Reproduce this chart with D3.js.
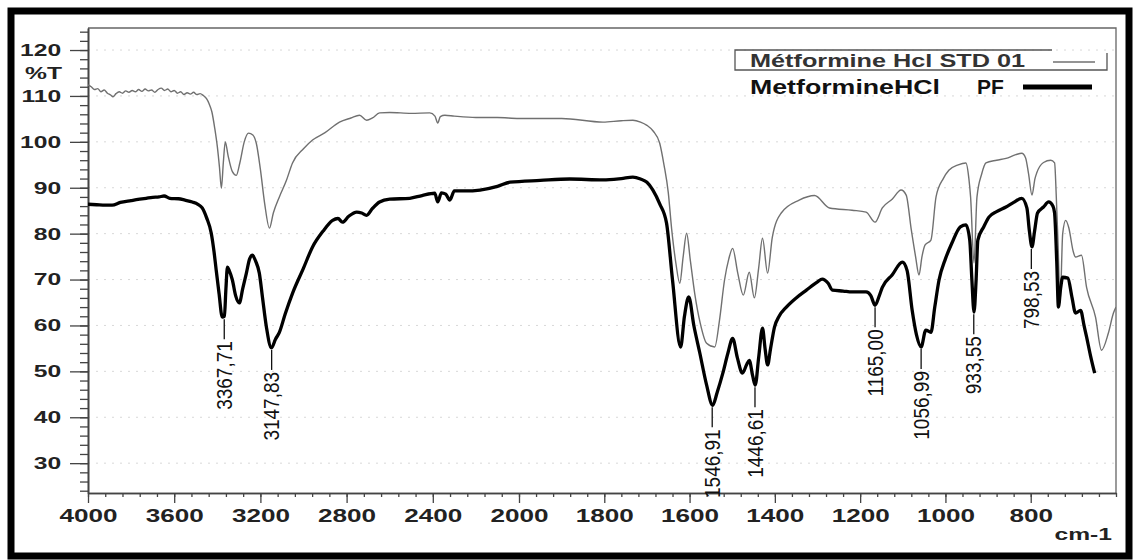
<!DOCTYPE html>
<html>
<head>
<meta charset="utf-8">
<script src="https://cdnjs.cloudflare.com/ajax/libs/d3/7.8.5/d3.min.js"></script>
<style>
  body { margin: 0; background: #fff; }
  svg { display: block; font-family: "Liberation Sans", Arial, sans-serif; }
</style>
</head>
<body>
<div id="chart"></div>
<script>
// FTIR spectra, wavenumber (cm-1) vs %T

// Métformine Hcl STD 01 (thin grey trace)
var stdWn = [4000, 3985, 3970, 3955, 3940, 3925, 3910, 3895, 3884, 3870, 3855, 3840, 3825, 3810, 3795, 3780,
  3765, 3750, 3735, 3720, 3705, 3690, 3675, 3660, 3645, 3630, 3615, 3600, 3585, 3570, 3555, 3540, 3525, 3510,
  3495, 3480, 3465, 3450, 3438, 3425, 3412, 3400, 3390, 3381, 3372, 3363, 3350, 3330, 3312, 3295, 3275, 3255,
  3235, 3219, 3200, 3180, 3158, 3140, 3112, 3080, 3051, 3000, 2958, 2900, 2833, 2780, 2740, 2707, 2680, 2647,
  2600, 2500, 2414, 2390, 2377, 2365, 2344, 2300, 2200, 2100, 2000, 1900, 1803, 1760, 1733, 1715, 1700, 1685,
  1670, 1660, 1650, 1642, 1632, 1623, 1615, 1607, 1598, 1588, 1575, 1560, 1541, 1530, 1518, 1508, 1499, 1487,
  1474, 1460, 1448, 1438, 1429, 1417, 1406, 1385, 1343, 1307, 1272, 1219, 1186, 1165, 1148, 1125, 1104, 1092,
  1080, 1070, 1062, 1055, 1048, 1034, 1022, 1005, 992, 970, 952, 945, 941, 933, 926, 915, 905, 880, 858, 835,
  821, 812, 805, 797, 790, 786, 770, 753, 744, 740, 736, 731, 725, 718, 711, 700, 695, 681, 669, 648, 634, 618,
  606, 600];
var stdT = [112.4, 112.0, 111.4, 111.6, 110.9, 111.3, 110.6, 110.2, 109.8, 110.5, 110.9, 110.6, 111.1, 110.8,
  111.2, 110.9, 111.4, 111.0, 111.5, 111.1, 111.3, 110.8, 111.4, 111.7, 111.2, 111.5, 110.9, 111.2, 110.6,
  110.9, 110.3, 110.7, 110.4, 110.8, 110.3, 110.5, 110.1, 109.4, 108.3, 106.5, 103.0, 99.0, 94.5, 89.9, 95.5,
  100.0, 97.0, 93.5, 92.7, 95.5, 100.0, 101.9, 101.5, 99.7, 94.0, 86.5, 81.2, 84.5, 88.0, 91.5, 95.4, 98.5,
  100.4, 102.0, 104.3, 105.2, 105.8, 104.7, 105.2, 106.3, 106.4, 106.2, 106.3, 105.6, 104.1, 105.5, 105.8,
  105.6, 105.3, 105.3, 105.1, 105.1, 104.3, 104.6, 104.7, 104.3, 103.6, 102.3, 99.7, 95.0, 89.0, 81.0, 73.5,
  69.2, 75.0, 80.1, 74.0, 67.0, 60.5, 56.1, 55.3, 61.0, 69.9, 74.5, 76.8, 71.4, 66.6, 71.6, 66.0, 72.5, 79.0,
  71.4, 79.2, 84.5, 87.3, 88.3, 85.6, 85.1, 84.7, 82.5, 85.6, 87.5, 89.5, 88.4, 80.8, 75.0, 71.0, 75.0, 77.5,
  78.6, 88.0, 92.0, 93.8, 95.0, 95.4, 92.0, 88.0, 73.6, 88.0, 93.0, 95.4, 96.0, 96.4, 97.2, 97.5, 96.5, 93.0,
  88.4, 92.0, 93.2, 95.5, 96.0, 95.4, 88.0, 78.0, 65.0, 80.0, 82.9, 81.4, 76.0, 74.9, 75.3, 68.3, 61.8, 54.6,
  58.3, 62.7, 64.0];

// MetformineHCl PF (thick black trace)
var pfWn = [4000, 3960, 3920, 3888, 3850, 3800, 3760, 3730, 3700, 3670, 3647, 3620, 3580, 3550, 3516, 3490,
  3470, 3450, 3428, 3415, 3405, 3392, 3377, 3367, 3360, 3353, 3345, 3330, 3315, 3298, 3282, 3265, 3250, 3237,
  3222, 3205, 3190, 3172, 3149, 3130, 3112, 3085, 3051, 3000, 2958, 2910, 2865, 2840, 2819, 2790, 2753, 2730,
  2707, 2680, 2647, 2600, 2507, 2450, 2391, 2377, 2360, 2340, 2321, 2300, 2250, 2181, 2100, 2042, 1950, 1881,
  1803, 1760, 1733, 1715, 1700, 1686, 1670, 1654, 1640, 1621, 1612, 1602, 1590, 1576, 1560, 1546, 1535, 1522,
  1510, 1499, 1488, 1476, 1466, 1460, 1452, 1446, 1438, 1429, 1423, 1417, 1410, 1401, 1390, 1373, 1350, 1326,
  1300, 1289, 1275, 1265, 1240, 1219, 1186, 1175, 1165, 1155, 1148, 1125, 1101, 1090, 1078, 1068, 1057, 1046,
  1034, 1025, 1015, 1000, 985, 965, 952, 943, 938, 933, 928, 924, 910, 898, 880, 858, 840, 821, 809, 803, 797,
  791, 784, 770, 758, 748, 744, 739, 735, 730, 725, 713, 703, 695, 683, 675, 669, 660, 650];
var pfT = [86.4, 86.3, 86.2, 86.2, 86.8, 87.2, 87.5, 87.7, 87.9, 88.0, 88.2, 87.7, 87.6, 87.3, 86.9, 86.4,
  85.6, 83.5, 80.1, 76.0, 72.0, 67.0, 61.8, 62.0, 68.0, 72.7, 72.0, 69.9, 66.5, 64.9, 68.0, 71.4, 74.5, 75.3,
  74.0, 71.4, 66.0, 59.6, 55.1, 57.0, 58.5, 62.5, 67.0, 72.5, 77.1, 80.5, 82.9, 83.3, 82.5, 83.8, 84.7, 84.5,
  84.0, 85.5, 86.9, 87.5, 87.7, 88.3, 88.8, 86.9, 88.9, 88.6, 87.3, 89.3, 89.3, 89.5, 90.3, 91.2, 91.6, 91.9,
  91.7, 92.0, 92.3, 91.9, 91.2, 89.5, 86.5, 82.3, 69.9, 55.3, 62.0, 66.2, 60.0, 54.0, 47.0, 42.6, 45.5, 49.6,
  54.0, 57.2, 53.0, 49.6, 51.5, 52.4, 49.0, 47.0, 53.0, 59.4, 55.0, 51.4, 55.0, 59.6, 62.0, 64.0, 66.0, 67.7,
  69.5, 70.1, 69.2, 67.7, 67.5, 67.3, 67.3, 66.5, 64.4, 66.5, 68.3, 71.0, 73.8, 72.0, 63.3, 58.0, 55.3, 59.0,
  58.5, 64.0, 69.9, 74.5, 77.9, 81.5, 81.9, 78.6, 70.0, 62.9, 70.0, 78.6, 81.5, 83.6, 84.8, 85.8, 86.8, 87.7,
  85.6, 80.5, 77.1, 80.5, 84.5, 85.8, 86.9, 86.0, 84.5, 74.0, 64.0, 68.0, 70.5, 70.3, 66.0, 62.7, 63.3, 60.0,
  57.5, 53.5, 49.6];

// annotated bands of the PF trace
var peakWn = [3367.71, 3147.83, 1546.91, 1446.61, 1165.00, 1056.99, 933.55, 798.53];
var peakT = [61.8, 55.1, 42.6, 47.0, 64.4, 55.3, 62.9, 77.1];
var peakLabels = ["3367,71", "3147,83", "1546,91", "1446,61", "1165,00", "1056,99", "933,55", "798,53"];

var xMajor = [4000, 3600, 3200, 2800, 2400, 2000, 1800, 1600, 1400, 1200, 1000, 800];
var yMajor = [30, 40, 50, 60, 70, 80, 90, 100, 110, 120];
var seriesNames = ["Métformine Hcl STD 01", "MetformineHCl", "PF"];

var width = 1136, height = 560;
var plotL = 88, plotR = 1116, plotT = 28, plotB = 493;

var svg = d3.select("#chart").append("svg")
    .attr("width", width)
    .attr("height", height);

// spectrometer scale: 2x expansion below 2000 cm-1
var x = d3.scaleLinear()
    .domain([4000, 2000, 600])
    .range([plotL, 519, plotR]);

var y = d3.scaleLinear()
    .domain([23.5, 124.8])
    .range([plotB, plotT]);

// outer black frame
svg.append("rect")
    .attr("x", 11).attr("y", 11)
    .attr("width", 1118).attr("height", 545)
    .attr("fill", "none")
    .attr("stroke", "#000")
    .attr("stroke-width", 7);

// faint dotted grid
svg.append("g").selectAll("line")
    .data(yMajor)
  .enter().append("line")
    .attr("x1", plotL).attr("x2", plotR)
    .attr("y1", function(d) { return y(d); })
    .attr("y2", function(d) { return y(d); })
    .attr("stroke", "#d8d8d8")
    .attr("stroke-dasharray", "2,6");

// plot frame top / right
svg.append("path")
    .attr("d", "M" + plotL + "," + plotT + "H" + plotR + "V" + plotB)
    .attr("fill", "none")
    .attr("stroke", "#666")
    .attr("stroke-width", 1.3);

// axes
var xMinor = d3.axisBottom(x)
    .tickValues(d3.range(4000, 2000, -80).concat(d3.range(2000, 599, -40)))
    .tickSize(4).tickSizeOuter(0).tickFormat("");
var xAxis = d3.axisBottom(x)
    .tickValues(xMajor)
    .tickSize(10).tickSizeOuter(0).tickPadding(6)
    .tickFormat(d3.format("d"));
var yMinor = d3.axisLeft(y)
    .tickValues(d3.range(24, 125, 2))
    .tickSize(8).tickSizeOuter(0).tickFormat("");
var yAxis = d3.axisLeft(y)
    .tickValues(yMajor)
    .tickSize(18).tickSizeOuter(0);

function styleAxis(g) {
  g.select(".domain").attr("stroke", "#444").attr("stroke-width", 1.6);
  g.selectAll(".tick line").attr("stroke", "#444").attr("stroke-width", 1.3);
}

svg.append("g")
    .attr("transform", "translate(0," + plotB + ")")
    .call(xMinor).call(styleAxis);

svg.append("g")
    .attr("transform", "translate(0," + plotB + ")")
    .call(xAxis).call(styleAxis)
  .selectAll("text")
    .attr("font-family", "Liberation Sans, Arial, sans-serif")
    .attr("font-size", 18)
    .attr("font-weight", "bold")
    .attr("fill", "#222")
    .attr("transform", "scale(1.45,1)");

svg.append("g")
    .attr("transform", "translate(" + plotL + ",0)")
    .call(yMinor).call(styleAxis);

svg.append("g")
    .attr("transform", "translate(" + plotL + ",0)")
    .call(yAxis).call(styleAxis)
  .selectAll("text")
    .attr("x", -18.5)
    .attr("font-family", "Liberation Sans, Arial, sans-serif")
    .attr("font-size", 17)
    .attr("font-weight", "bold")
    .attr("fill", "#222")
    .attr("transform", "scale(1.45,1)");

// unit labels
svg.append("text")
    .attr("transform", "translate(62,79) scale(1.45,1)")
    .attr("text-anchor", "end")
    .attr("font-size", 17).attr("font-weight", "bold").attr("fill", "#222")
    .text("%T");

svg.append("text")
    .attr("transform", "translate(1112,540) scale(1.45,1)")
    .attr("text-anchor", "end")
    .attr("font-size", 17).attr("font-weight", "bold").attr("fill", "#222")
    .text("cm-1");

// spectra
svg.append("clipPath").attr("id", "plot")
  .append("rect")
    .attr("x", plotL).attr("y", plotT)
    .attr("width", plotR - plotL).attr("height", plotB - plotT);

var line = d3.line()
    .x(function(d) { return x(d[0]); })
    .y(function(d) { return y(d[1]); })
    .curve(d3.curveMonotoneX);

svg.append("path")
    .datum(d3.zip(stdWn, stdT))
    .attr("clip-path", "url(#plot)")
    .attr("d", line)
    .attr("fill", "none")
    .attr("stroke", "#707070")
    .attr("stroke-width", 1.4)
    .attr("stroke-linejoin", "round");

svg.append("path")
    .datum(d3.zip(pfWn, pfT))
    .attr("clip-path", "url(#plot)")
    .attr("d", line)
    .attr("fill", "none")
    .attr("stroke", "#000")
    .attr("stroke-width", 3.3)
    .attr("stroke-linejoin", "round");

// peak annotations
var peaks = svg.append("g").selectAll("g")
    .data(d3.range(peakWn.length))
  .enter().append("g")
    .attr("transform", function(i) { return "translate(" + x(peakWn[i]) + "," + (y(peakT[i]) + 2) + ")"; });

peaks.append("line")
    .attr("y1", 0).attr("y2", 20)
    .attr("stroke", "#111")
    .attr("stroke-width", 1.3);

peaks.append("text")
    .attr("transform", "translate(0,22) scale(1.15,1) rotate(-90)")
    .attr("text-anchor", "end")
    .attr("dy", "0.35em")
    .attr("font-size", 19)
    .attr("fill", "#111")
    .text(function(i) { return peakLabels[i]; });

// legend
var legend = svg.append("g");

legend.append("path")
    .attr("d", "M1052,50H735V70H1107V53")
    .attr("fill", "none")
    .attr("stroke", "#555")
    .attr("stroke-width", 1.3);

legend.append("text")
    .attr("x", 750).attr("y", 67)
    .attr("font-size", 18).attr("font-weight", "bold").attr("fill", "#333")
    .attr("textLength", 275).attr("lengthAdjust", "spacingAndGlyphs")
    .text(seriesNames[0]);

legend.append("line")
    .attr("x1", 1053).attr("x2", 1095)
    .attr("y1", 62).attr("y2", 62)
    .attr("stroke", "#707070").attr("stroke-width", 1.5);

legend.append("text")
    .attr("x", 750).attr("y", 94)
    .attr("font-size", 21).attr("font-weight", "bold").attr("fill", "#111")
    .attr("textLength", 190).attr("lengthAdjust", "spacingAndGlyphs")
    .text(seriesNames[1]);

legend.append("text")
    .attr("x", 977).attr("y", 94)
    .attr("font-size", 21).attr("font-weight", "bold").attr("fill", "#111")
    .text(seriesNames[2]);

legend.append("line")
    .attr("x1", 1023).attr("x2", 1092)
    .attr("y1", 87).attr("y2", 87)
    .attr("stroke", "#000").attr("stroke-width", 5);
</script>
</body>
</html>
